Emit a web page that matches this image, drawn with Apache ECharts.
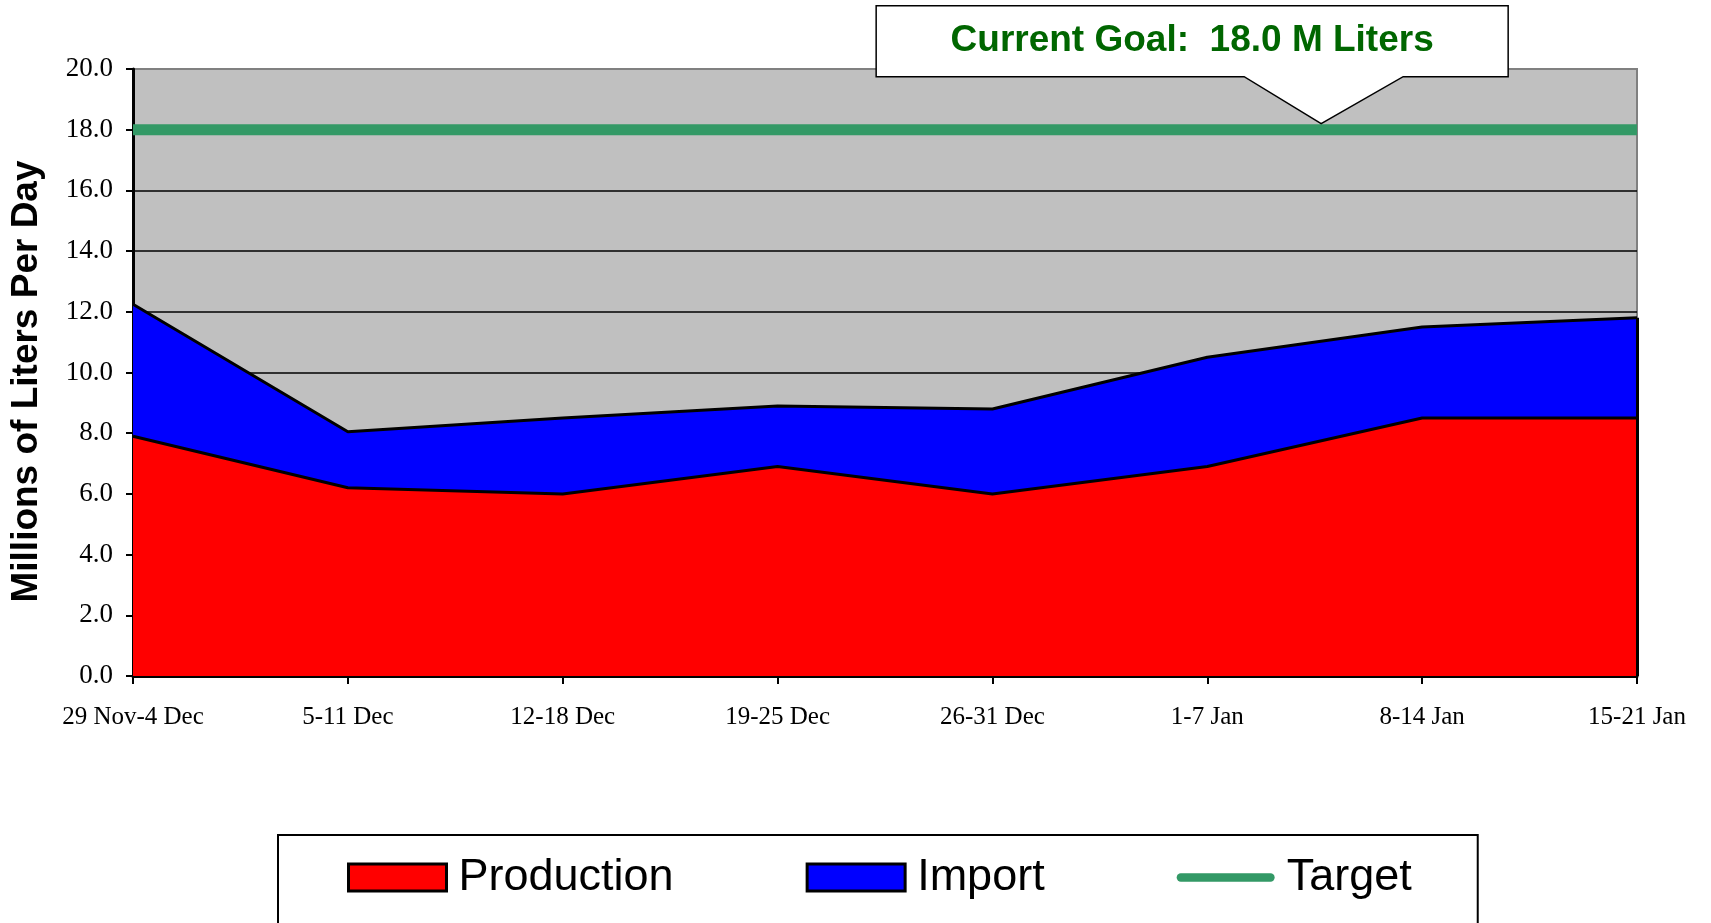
<!DOCTYPE html>
<html>
<head>
<meta charset="utf-8">
<title>Millions of Liters Per Day</title>
<script src="https://cdn.jsdelivr.net/npm/echarts@6/dist/echarts.min.js"></script>
<style>
  html, body { margin: 0; padding: 0; background: #fff; }
  #chart { width: 1711px; height: 923px; }
</style>
</head>
<body>
<div id="chart"></div>
<script>
const weeks = ['29 Nov-4 Dec', '5-11 Dec', '12-18 Dec', '19-25 Dec', '26-31 Dec', '1-7 Jan', '8-14 Jan', '15-21 Jan']
const production = [7.9, 6.2, 6.0, 6.9, 6.0, 6.9, 8.5, 8.5]
const imports = [4.35, 1.85, 2.5, 2.0, 2.8, 3.6, 3.0, 3.3]
const target = [18, 18, 18, 18, 18, 18, 18, 18]
const goal = 18.0

const serif = '"Liberation Serif", "Times New Roman", serif'
const sans = '"Liberation Sans", Arial, sans-serif'

const chart = echarts.init(document.getElementById('chart'))
const last = weeks.length - 1

chart.setOption({
  animation: false,
  grid: {
    left: 132, right: 74, top: 69, bottom: 247,
    show: true, backgroundColor: '#c0c0c0', borderColor: '#808080', borderWidth: 2
  },
  legend: {
    left: 278, top: 835,
    padding: [20, 66, 40, 69],
    itemGap: 132,
    itemWidth: 98, itemHeight: 27,
    borderColor: '#000', borderWidth: 2,
    textStyle: { fontFamily: sans, fontSize: 45, color: '#000', padding: [0, 0, 0, 7] },
    data: [
      { name: 'Production', icon: 'rect', itemStyle: { color: '#ff0000', borderColor: '#000', borderWidth: 3 } },
      { name: 'Import', icon: 'rect', itemStyle: { color: '#0000ff', borderColor: '#000', borderWidth: 3 } },
      {
        name: 'Target',
        icon: 'path://M4.5,0 L101.5,0 A4.5,4.5 0 0 1 101.5,9 L4.5,9 A4.5,4.5 0 0 1 4.5,0 Z',
        itemStyle: { color: '#339966', borderWidth: 0 }
      }
    ]
  },
  xAxis: {
    type: 'category',
    data: weeks,
    boundaryGap: false,
    axisLine: { lineStyle: { color: '#000', width: 3 } },
    axisTick: { length: 8, lineStyle: { color: '#000', width: 2 } },
    axisLabel: { fontFamily: serif, fontSize: 25, color: '#000', margin: 29, interval: 0 },
    splitLine: { show: false }
  },
  yAxis: {
    type: 'value',
    min: 0, max: 20, interval: 2,
    name: 'Millions of Liters Per Day',
    nameLocation: 'middle',
    nameGap: 88,
    nameTextStyle: { fontFamily: sans, fontWeight: 'bold', fontSize: 37, color: '#000', padding: [0, 18, 0, 0] },
    axisLine: { show: true, lineStyle: { color: '#000', width: 3 } },
    axisTick: { show: true, length: 7, lineStyle: { color: '#000', width: 2 } },
    axisLabel: { fontFamily: serif, fontSize: 27, color: '#000', margin: 20, formatter: v => v.toFixed(1) },
    splitLine: { show: true, showMaxLine: false, lineStyle: { color: '#000', width: 1.5 } }
  },
  series: [
    {
      name: 'Production', type: 'line', stack: 'total', data: production,
      symbol: 'none', z: 3,
      lineStyle: { color: '#000', width: 3 },
      itemStyle: { color: '#ff0000' },
      areaStyle: { color: '#ff0000', opacity: 1 }
    },
    {
      name: 'Import', type: 'line', stack: 'total', data: imports,
      symbol: 'none', z: 2,
      lineStyle: { color: '#000', width: 3 },
      itemStyle: { color: '#0000ff' },
      areaStyle: { color: '#0000ff', opacity: 1 },
      // closing edge of the stacked area on the right side
      markLine: {
        silent: true, symbol: 'none', label: { show: false },
        lineStyle: { color: '#000', width: 3, type: 'solid' },
        data: [[{ coord: [weeks[last], 0] }, { coord: [weeks[last], production[last] + imports[last]] }]]
      }
    },
    {
      name: 'Target', type: 'line', data: target,
      symbol: 'none', z: 4,
      lineStyle: { color: '#339966', width: 11 },
      itemStyle: { color: '#339966' }
    }
  ]
})

// callout pointing at the target line between 1-7 Jan and 8-14 Jan
const a = chart.convertToPixel({ gridIndex: 0 }, [5, goal])
const b = chart.convertToPixel({ gridIndex: 0 }, [6, goal])
const tipX = a[0] + (b[0] - a[0]) * 0.53
const tipY = a[1] - 6
const boxL = tipX - 445, boxR = tipX + 187, boxT = tipY - 118, boxB = tipY - 47

chart.setOption({
  graphic: [
    {
      type: 'polygon', z: 100,
      shape: {
        points: [
          [boxL, boxT], [boxR, boxT], [boxR, boxB], [tipX + 82, boxB],
          [tipX, tipY], [tipX - 77, boxB], [boxL, boxB]
        ]
      },
      style: { fill: '#fff', stroke: '#000', lineWidth: 1.5 }
    },
    {
      type: 'text', z: 101,
      x: (boxL + boxR) / 2, y: (boxT + boxB) / 2,
      style: {
        text: 'Current Goal:  ' + goal.toFixed(1) + ' M Liters',
        fill: '#006600',
        font: 'bold 37px "Liberation Sans", Arial, sans-serif',
        align: 'center', verticalAlign: 'middle'
      }
    }
  ]
})
</script>
</body>
</html>
